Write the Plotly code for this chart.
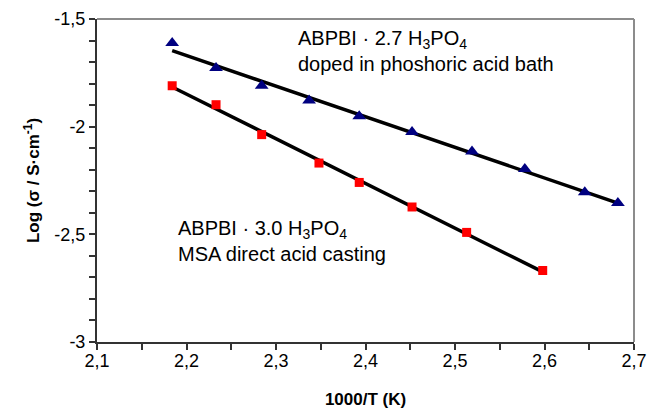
import numpy as np
import plotly.graph_objects as go

# Data
x_tri = [2.184, 2.233, 2.284, 2.337, 2.393, 2.452, 2.519, 2.578, 2.645, 2.682]
y_tri = [-1.611, -1.728, -1.810, -1.879, -1.952, -2.025, -2.115, -2.197, -2.304, -2.355]

x_sq = [2.184, 2.233, 2.284, 2.348, 2.393, 2.452, 2.513, 2.598]
y_sq = [-1.810, -1.898, -2.037, -2.169, -2.259, -2.373, -2.491, -2.668]

x_tickvals = [2.1, 2.2, 2.3, 2.4, 2.5, 2.6, 2.7]
x_ticktext = ["2,1", "2,2", "2,3", "2,4", "2,5", "2,6", "2,7"]
y_tickvals = [-1.5, -2.0, -2.5, -3.0]
y_ticktext = ["-1,5", "-2", "-2,5", "-3"]

FONT = "Liberation Sans"

def fit_line(xs, ys):
    k, b = np.polyfit(xs, ys, 1)
    xl = np.array([min(xs), max(xs)])
    return xl, k * xl + b

fig = go.Figure()

for xs, ys in [(x_tri, y_tri), (x_sq, y_sq)]:
    xl, yl = fit_line(xs, ys)
    fig.add_trace(go.Scatter(x=xl, y=yl, mode="lines",
                             line=dict(color="black", width=3.5),
                             showlegend=False, hoverinfo="skip"))

fig.add_trace(go.Scatter(x=x_tri, y=y_tri, mode="markers",
                         marker=dict(symbol="triangle-up", size=12, color="#000080"),
                         showlegend=False))
fig.add_trace(go.Scatter(x=x_sq, y=y_sq, mode="markers",
                         marker=dict(symbol="square", size=9, color="#FF0000"),
                         showlegend=False))

fig.add_annotation(x=2.322, y=-1.528, xref="x", yref="y", xanchor="left", yanchor="top",
                   text="ABPBI · 2.7 H<sub>3</sub>PO<sub>4</sub><br>doped in phoshoric acid bath",
                   showarrow=False, align="left",
                   font=dict(family=FONT, size=20, color="black"))
fig.add_annotation(x=2.188, y=-2.41, xref="x", yref="y", xanchor="left", yanchor="top",
                   text="ABPBI · 3.0 H<sub>3</sub>PO<sub>4</sub><br>MSA direct acid casting",
                   showarrow=False, align="left",
                   font=dict(family=FONT, size=20, color="black"))

# gray frame on top and right
fig.add_shape(type="line", xref="paper", yref="paper", x0=0, x1=1, y0=1, y1=1,
              line=dict(color="#8c8c8c", width=2))
fig.add_shape(type="line", xref="paper", yref="paper", x0=1, x1=1, y0=0, y1=1,
              line=dict(color="#8c8c8c", width=2))

fig.update_layout(
    template="none",
    width=649, height=410,
    margin=dict(l=97, r=15, t=19, b=68),
    paper_bgcolor="white", plot_bgcolor="white",
    font=dict(family=FONT, size=18, color="black"),
    xaxis=dict(range=[2.1, 2.7], tickvals=x_tickvals, ticktext=x_ticktext, automargin=False,
               showgrid=False, zeroline=False, showline=True, linecolor="#333333", linewidth=2,
               ticks="outside", ticklen=6, tickcolor="#333333", tickwidth=1.5,
               tickfont=dict(size=18), ticklabelstandoff=-5,
               minor=dict(dtick=0.05, tick0=2.1, ticks="outside", ticklen=6, tickcolor="#333333", tickwidth=1.5, showgrid=False),
               title=dict(text="<b>1000/T (K)</b>", font=dict(size=17), standoff=24)),
    yaxis=dict(range=[-3, -1.5], tickvals=y_tickvals, ticktext=y_ticktext, automargin=False,
               showgrid=False, zeroline=False, showline=True, linecolor="#333333", linewidth=2,
               ticks="outside", ticklen=6, tickcolor="#333333", tickwidth=1.5,
               tickfont=dict(size=18),
               minor=dict(dtick=0.1, tick0=-3, ticks="outside", ticklen=6, tickcolor="#333333", tickwidth=1.5, showgrid=False),
               title=dict(text="<b>Log (σ / S·cm<sup>-1</sup>)</b>", font=dict(size=17), standoff=10)),
)

# remove the default page margin so the figure fills the window exactly
fig.write_html("out.html",
               config={"displayModeBar": False},
               post_script="document.body.style.margin='0';document.body.style.overflow='hidden';")
